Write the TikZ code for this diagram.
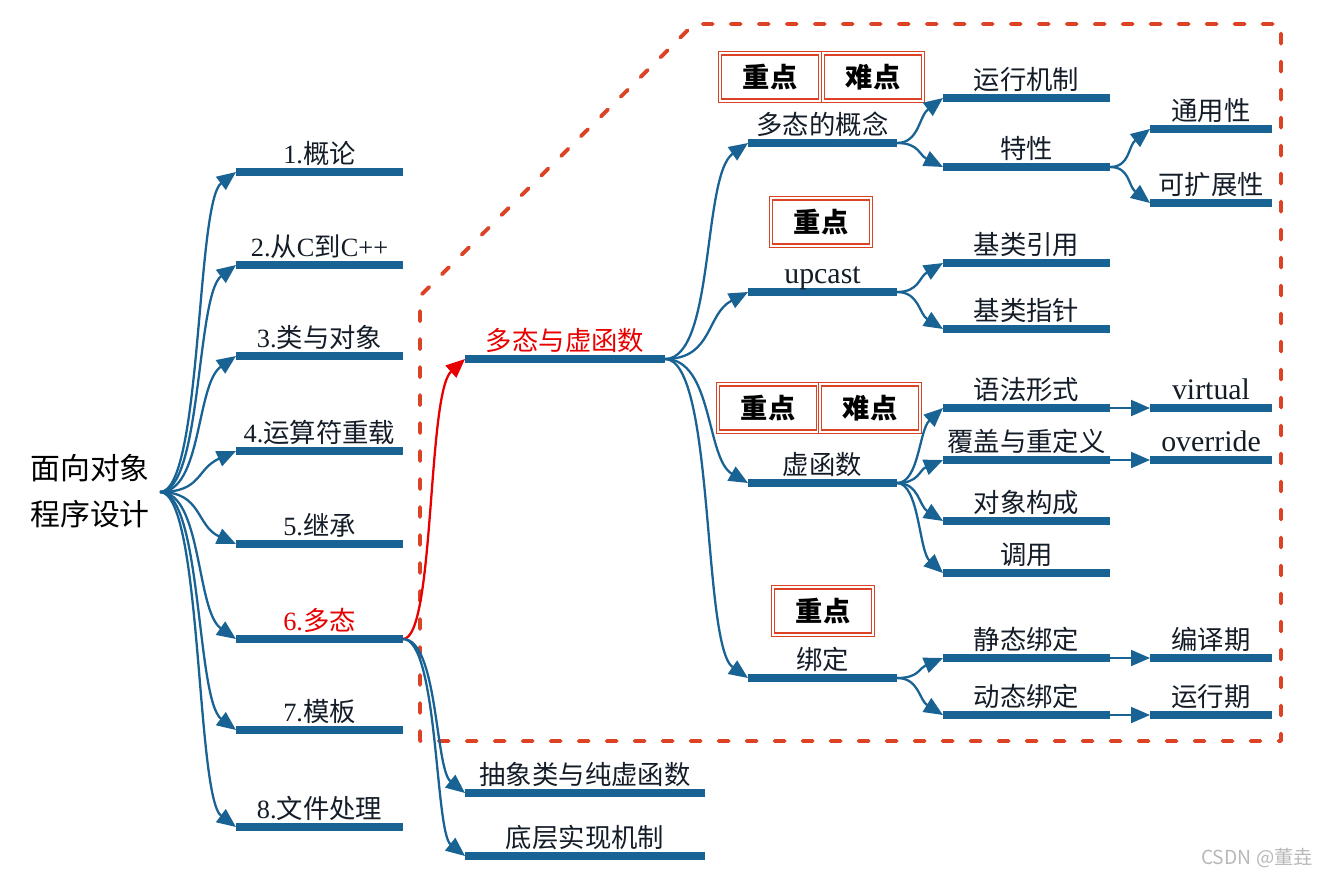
\documentclass[tikz,border=0pt]{standalone}
\usepackage{fontspec}
\setmainfont{Liberation Serif}
\newfontfamily\cjk{Noto Sans CJK SC}
\usetikzlibrary{arrows.meta,calc}
\definecolor{barblue}{RGB}{24,98,148}
\definecolor{txt}{RGB}{20,28,40}
\definecolor{framered}{RGB}{220,66,36}
\definecolor{hot}{RGB}{232,0,0}
\newcommand\zh[1]{{\cjk #1}}
% bar item: [opt]{name}{x1}{x2}{y}{text}
\newcommand\bitem[6][]{%
  \coordinate (#2s) at (#3,#5);
  \coordinate (#2e) at (#4,#5);
  \draw[bar] (#2s) -- (#2e);
  \node[lbl,#1] (#2) at ($(#2s)!0.5!(#2e)+(0,-9)$) {#6};
}
% curved link: [opt]{from}{to}{c1dx}{c2dx}{c2dy}
\newcommand\link[6][]{%
  \draw[conn,#1] (#2) .. controls ($(#2)+(#4,0)$) and ($(#3)+(#5,#6)$) .. (#3);
}
\tikzset{
  bar/.style={draw=barblue, line width=4.4pt},
  lbl/.style={anchor=base, inner sep=0pt, text=txt, font=\fontsize{15}{18}\selectfont},
  lat/.style={font=\fontsize{17}{20}\selectfont},
  conn/.style={draw=barblue, line width=1.3pt, -{Triangle[length=0.38cm,width=0.32cm]}},
  sconn/.style={draw=barblue, line width=1.1pt, -{Triangle[length=0.38cm,width=0.32cm]}},
  hotconn/.style={draw=hot},
  badge/.style={draw=framered, double=white, line width=0.8pt, double distance=1.2pt,
    minimum width=2.0cm, minimum height=0.95cm, inner sep=0pt,
    font=\cjk\bfseries\fontsize{15.5}{18}\selectfont, text=black},
  framed/.style={draw=framered, line width=2.2pt, line cap=round, line join=round,
    dash pattern=on 0.2cm off 0.36cm},
}
\begin{document}
\begin{tikzpicture}[x=0.02cm,y=-0.02cm]
\useasboundingbox (0,0) rectangle (1334,883);
% frame
\draw[framed] (420,741) -- (420,296) -- (694,24) -- (1281,24) -- (1281,741) -- cycle;
% root
\node[align=center, inner sep=0pt, text=black, font=\cjk\fontsize{17}{26}\selectfont] (root) at (90,491) {面向对象\\程序设计};
\coordinate (R) at (160,492);
% level 1
\bitem{c1}{236}{403}{172}{1.\zh{概论}}
\bitem{c2}{236}{403}{265}{2.\zh{从}C\zh{到}C++}
\bitem{c3}{236}{403}{356}{3.\zh{类与对象}}
\bitem{c4}{236}{403}{451}{4.\zh{运算符重载}}
\bitem{c5}{236}{403}{544}{5.\zh{继承}}
\bitem[text=hot]{c6}{236}{403}{639}{6.\zh{多态}}
\bitem{c7}{236}{403}{730}{7.\zh{模板}}
\bitem{c8}{236}{403}{827}{8.\zh{文件处理}}
\link{R}{c1s}{42}{-40}{30}
\link{R}{c2s}{42}{-40}{30}
\link{R}{c3s}{42}{-40}{28}
\link{R}{c4s}{42}{-40}{18}
\link{R}{c5s}{42}{-40}{-18}
\link{R}{c6s}{42}{-40}{-28}
\link{R}{c7s}{42}{-40}{-30}
\link{R}{c8s}{42}{-40}{-30}
% level 2
\bitem[text=hot]{p1}{465}{665}{359}{\zh{多态与虚函数}}
\bitem{p2}{465}{705}{793}{\zh{抽象类与纯虚函数}}
\bitem{p3}{465}{705}{856}{\zh{底层实现机制}}
\link[hotconn]{c6e}{p1s}{32}{-38}{34}
\link{c6e}{p2s}{35}{-30}{-24}
\link{c6e}{p3s}{35}{-30}{-24}
% level 3
\bitem{q1}{748}{897}{143}{\zh{多态的概念}}
\bitem[lat]{q2}{748}{897}{292}{upcast}
\bitem{q3}{748}{897}{483}{\zh{虚函数}}
\bitem{q4}{748}{897}{678}{\zh{绑定}}
\link{p1e}{q1s}{50}{-46}{32}
\link{p1e}{q2s}{48}{-42}{22}
\link{p1e}{q3s}{48}{-42}{-24}
\link{p1e}{q4s}{50}{-46}{-32}
% badges
\node[badge] (b1a) at (770,77) {重点};
\node[badge] (b1b) at (873,77) {难点};
\node[badge] (b2a) at (821,222) {重点};
\node[badge] (b3a) at (768,408) {重点};
\node[badge] (b3b) at (870,408) {难点};
\node[badge] (b4a) at (823,611) {重点};
% level 4
\bitem{r1}{943}{1110}{98}{\zh{运行机制}}
\bitem{r2}{943}{1110}{167}{\zh{特性}}
\link{q1e}{r1s}{22}{-24}{18}
\link{q1e}{r2s}{22}{-24}{-12}
\bitem{s1}{1150}{1272}{129}{\zh{通用性}}
\bitem{s2}{1150}{1272}{203}{\zh{可扩展性}}
\link{r2e}{s1s}{20}{-22}{17}
\link{r2e}{s2s}{20}{-22}{-17}
\bitem{r3}{943}{1110}{263}{\zh{基类引用}}
\bitem{r4}{943}{1110}{329}{\zh{基类指针}}
\link{q2e}{r3s}{22}{-24}{14}
\link{q2e}{r4s}{22}{-24}{-15}
\bitem{r5}{943}{1110}{408}{\zh{语法形式}}
\bitem{r6}{943}{1110}{460}{\zh{覆盖与重定义}}
\bitem{r7}{943}{1110}{521}{\zh{对象构成}}
\bitem{r8}{943}{1110}{573}{\zh{调用}}
\link{q3e}{r5s}{22}{-24}{22}
\link{q3e}{r6s}{22}{-24}{10}
\link{q3e}{r7s}{22}{-24}{-15}
\link{q3e}{r8s}{22}{-24}{-22}
\bitem{r9}{943}{1110}{658}{\zh{静态绑定}}
\bitem{r10}{943}{1110}{715}{\zh{动态绑定}}
\link{q4e}{r9s}{22}{-24}{10}
\link{q4e}{r10s}{22}{-24}{-15}
% level 5
\bitem[lat]{t1}{1150}{1272}{408}{virtual}
\bitem[lat]{t2}{1150}{1272}{460}{override}
\bitem{t3}{1150}{1272}{658}{\zh{编译期}}
\bitem{t4}{1150}{1272}{715}{\zh{运行期}}
\draw[sconn] (r5e) -- (t1s);
\draw[sconn] (r6e) -- (t2s);
\draw[sconn] (r9e) -- (t3s);
\draw[sconn] (r10e) -- (t4s);
% watermark
\node[inner sep=0pt, text=black!28, font=\cjk\fontsize{11}{13}\selectfont] (wm) at (1257,858) {CSDN @董垚};
\end{tikzpicture}
\end{document}
